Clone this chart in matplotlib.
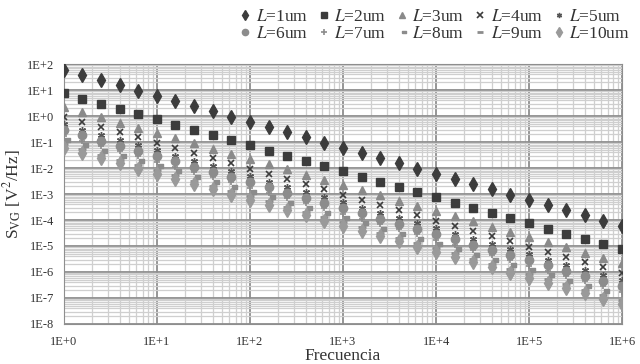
import numpy as np
import matplotlib
matplotlib.use('Agg')
import matplotlib.pyplot as plt
from matplotlib.ticker import LogLocator, FixedLocator, NullFormatter

plt.rcParams['font.family'] = ['Liberation Serif', 'DejaVu Serif']
plt.rcParams['mathtext.fontset'] = 'stix'

# frequencies, 5 points per decade
freq = [1, 1.58, 2.51, 3.98, 6.31,
        1.0e1, 1.58e1, 2.51e1, 3.98e1, 6.31e1,
        1.0e2, 1.58e2, 2.51e2, 3.98e2, 6.31e2,
        1.0e3, 1.58e3, 2.51e3, 3.98e3, 6.31e3,
        1.0e4, 1.58e4, 2.51e4, 3.98e4, 6.31e4,
        1.0e5, 1.58e5, 2.51e5, 3.98e5, 6.31e5,
        1.0e6]

s_L1 = [6.0e1, 3.8e1, 2.4e1, 1.5e1, 9.5e0, 6.0e0, 3.8e0, 2.4e0, 1.5e0, 9.5e-1,
        6.0e-1, 3.8e-1, 2.4e-1, 1.5e-1, 9.5e-2, 6.0e-2, 3.8e-2, 2.4e-2, 1.5e-2, 9.5e-3,
        6.0e-3, 3.8e-3, 2.4e-3, 1.5e-3, 9.5e-4, 6.0e-4, 3.8e-4, 2.4e-4, 1.5e-4, 9.5e-5,
        6.0e-5]
s_L2 = [7.5e0, 4.7e0, 3.0e0, 1.9e0, 1.2e0, 7.5e-1, 4.7e-1, 3.0e-1, 1.9e-1, 1.2e-1,
        7.5e-2, 4.7e-2, 3.0e-2, 1.9e-2, 1.2e-2, 7.5e-3, 4.7e-3, 3.0e-3, 1.9e-3, 1.2e-3,
        7.5e-4, 4.7e-4, 3.0e-4, 1.9e-4, 1.2e-4, 7.5e-5, 4.7e-5, 3.0e-5, 1.9e-5, 1.2e-5,
        7.5e-6]
s_L3 = [2.2e0, 1.4e0, 8.8e-1, 5.5e-1, 3.5e-1, 2.2e-1, 1.4e-1, 8.8e-2, 5.5e-2, 3.5e-2,
        2.2e-2, 1.4e-2, 8.8e-3, 5.5e-3, 3.5e-3, 2.2e-3, 1.4e-3, 8.8e-4, 5.5e-4, 3.5e-4,
        2.2e-4, 1.4e-4, 8.8e-5, 5.5e-5, 3.5e-5, 2.2e-5, 1.4e-5, 8.8e-6, 5.5e-6, 3.5e-6,
        2.2e-6]
s_L4 = [9.4e-1, 5.9e-1, 3.7e-1, 2.4e-1, 1.5e-1, 9.4e-2, 5.9e-2, 3.7e-2, 2.4e-2, 1.5e-2,
        9.4e-3, 5.9e-3, 3.7e-3, 2.4e-3, 1.5e-3, 9.4e-4, 5.9e-4, 3.7e-4, 2.4e-4, 1.5e-4,
        9.4e-5, 5.9e-5, 3.7e-5, 2.4e-5, 1.5e-5, 9.4e-6, 5.9e-6, 3.7e-6, 2.4e-6, 1.5e-6,
        9.4e-7]
s_L5 = [4.8e-1, 3.0e-1, 1.9e-1, 1.2e-1, 7.6e-2, 4.8e-2, 3.0e-2, 1.9e-2, 1.2e-2, 7.6e-3,
        4.8e-3, 3.0e-3, 1.9e-3, 1.2e-3, 7.6e-4, 4.8e-4, 3.0e-4, 1.9e-4, 1.2e-4, 7.6e-5,
        4.8e-5, 3.0e-5, 1.9e-5, 1.2e-5, 7.6e-6, 4.8e-6, 3.0e-6, 1.9e-6, 1.2e-6, 7.6e-7,
        4.8e-7]
s_L6 = [2.8e-1, 1.8e-1, 1.1e-1, 7.0e-2, 4.4e-2, 2.8e-2, 1.8e-2, 1.1e-2, 7.0e-3, 4.4e-3,
        2.8e-3, 1.8e-3, 1.1e-3, 7.0e-4, 4.4e-4, 2.8e-4, 1.8e-4, 1.1e-4, 7.0e-5, 4.4e-5,
        2.8e-5, 1.8e-5, 1.1e-5, 7.0e-6, 4.4e-6, 2.8e-6, 1.8e-6, 1.1e-6, 7.0e-7, 4.4e-7,
        2.8e-7]
s_L7 = [1.75e-1, 1.1e-1, 7.0e-2, 4.4e-2, 2.8e-2, 1.75e-2, 1.1e-2, 7.0e-3, 4.4e-3, 2.8e-3,
        1.75e-3, 1.1e-3, 7.0e-4, 4.4e-4, 2.8e-4, 1.75e-4, 1.1e-4, 7.0e-5, 4.4e-5, 2.8e-5,
        1.75e-5, 1.1e-5, 7.0e-6, 4.4e-6, 2.8e-6, 1.75e-6, 1.1e-6, 7.0e-7, 4.4e-7, 2.8e-7,
        1.75e-7]
s_L8 = [1.2e-1, 7.4e-2, 4.7e-2, 2.9e-2, 1.8e-2, 1.2e-2, 7.4e-3, 4.7e-3, 2.9e-3, 1.8e-3,
        1.2e-3, 7.4e-4, 4.7e-4, 2.9e-4, 1.8e-4, 1.2e-4, 7.4e-5, 4.7e-5, 2.9e-5, 1.8e-5,
        1.2e-5, 7.4e-6, 4.7e-6, 2.9e-6, 1.8e-6, 1.2e-6, 7.4e-7, 4.7e-7, 2.9e-7, 1.8e-7,
        1.2e-7]
s_L9 = [8.2e-2, 5.2e-2, 3.3e-2, 2.1e-2, 1.3e-2, 8.2e-3, 5.2e-3, 3.3e-3, 2.1e-3, 1.3e-3,
        8.2e-4, 5.2e-4, 3.3e-4, 2.1e-4, 1.3e-4, 8.2e-5, 5.2e-5, 3.3e-5, 2.1e-5, 1.3e-5,
        8.2e-6, 5.2e-6, 3.3e-6, 2.1e-6, 1.3e-6, 8.2e-7, 5.2e-7, 3.3e-7, 2.1e-7, 1.3e-7,
        8.2e-8]
s_L10 = [6.0e-2, 3.8e-2, 2.4e-2, 1.5e-2, 9.5e-3, 6.0e-3, 3.8e-3, 2.4e-3, 1.5e-3, 9.5e-4,
         6.0e-4, 3.8e-4, 2.4e-4, 1.5e-4, 9.5e-5, 6.0e-5, 3.8e-5, 2.4e-5, 1.5e-5, 9.5e-6,
         6.0e-6, 3.8e-6, 2.4e-6, 1.5e-6, 9.5e-7, 6.0e-7, 3.8e-7, 2.4e-7, 1.5e-7, 9.5e-8,
         6.0e-8]

labels = ['1um', '2um', '3um', '4um', '5um', '6um', '7um', '8um', '9um', '10um']
series = [s_L1, s_L2, s_L3, s_L4, s_L5, s_L6, s_L7, s_L8, s_L9, s_L10]

# small dash marker shifted to the right of the point (as drawn in the original)
dash = matplotlib.path.Path([(0.1, -0.35), (1.0, -0.35), (1.0, 0.35), (0.1, 0.35), (0.1, -0.35)])

styles = [
    dict(marker='d', ms=7, color='#3c3c3c'),
    dict(marker='s', ms=6, color='#3c3c3c'),
    dict(marker='^', ms=6, color='#8a8a8a'),
    dict(marker='x', ms=5, color='#3c3c3c', mew=1.2),
    dict(marker=(6, 2, 0), ms=5, color='#555555', mew=1.0),
    dict(marker='o', ms=6, color='#8c8c8c'),
    dict(marker='+', ms=5, color='#8c8c8c', mew=1.2),
    dict(marker=dash, ms=8, color='#8c8c8c'),
    dict(marker='_', ms=6, color='#8c8c8c', mew=2),
    dict(marker='d', ms=7, color='#9a9a9a'),
]

fig = plt.figure(figsize=(6.4, 3.64), dpi=100)
ax = fig.add_axes([0.1, 0.11, 0.872, 0.714])

handles = []
for lab, s, st in zip(labels, series, styles):
    h, = ax.plot(freq, s, linestyle='none', mec=st['color'], mfc=st['color'],
                 label=r'$\mathit{L}$=' + lab, marker=st['marker'], ms=st['ms'],
                 mew=st.get('mew', 1.0), zorder=3)
    handles.append(h)

ax.set_xscale('log')
ax.set_yscale('log')
ax.set_xlim(1, 1e6)
ax.set_ylim(1e-8, 1e2)

ax.xaxis.set_major_locator(FixedLocator([10.0 ** k for k in range(0, 7)]))
ax.yaxis.set_major_locator(FixedLocator([10.0 ** k for k in range(-8, 3)]))
ax.xaxis.set_minor_locator(LogLocator(base=10, subs=np.arange(2, 10), numticks=20))
ax.yaxis.set_minor_locator(LogLocator(base=10, subs=np.arange(2, 10), numticks=20))
ax.xaxis.set_minor_formatter(NullFormatter())
ax.yaxis.set_minor_formatter(NullFormatter())
ax.set_xticklabels(['1E+0', '1E+1', '1E+2', '1E+3', '1E+4', '1E+5', '1E+6'])
ax.set_yticklabels(['1E-8', '1E-7', '1E-6', '1E-5', '1E-4', '1E-3', '1E-2', '1E-1',
                    '1E+0', '1E+1', '1E+2'])

ax.grid(True, which='major', color='#8e8e8e', linewidth=1.3, zorder=1)
ax.grid(True, which='minor', color='#cfcfcf', linewidth=0.9, zorder=0)
ax.set_axisbelow(True)
ax.tick_params(which='both', length=0, labelsize=9, colors='#333333')
ax.tick_params(axis='x', pad=9)
ax.tick_params(axis='y', pad=7)
for sp in ax.spines.values():
    sp.set_color('#8e8e8e')

ax.set_xlabel('Frecuencia', fontsize=12.5, color='#333333', labelpad=0)
ax.set_ylabel(r'S$_{\mathrm{VG}}$ [V$^2$/Hz]', fontsize=12.5, color='#333333', labelpad=2)

# legend filled row by row (matplotlib fills columns first)
order = [0, 5, 1, 6, 2, 7, 3, 8, 4, 9]
fig.legend([handles[i] for i in order], [handles[i].get_label() for i in order],
           loc='upper left', bbox_to_anchor=(0.355, 1.01), ncol=5, frameon=False,
           fontsize=12.5, handlelength=0.7, handletextpad=0.25, columnspacing=0.55,
           labelspacing=0.05, borderaxespad=0.3, markerscale=0.75, labelcolor='#333333')

fig.savefig('out.png', dpi=100)
